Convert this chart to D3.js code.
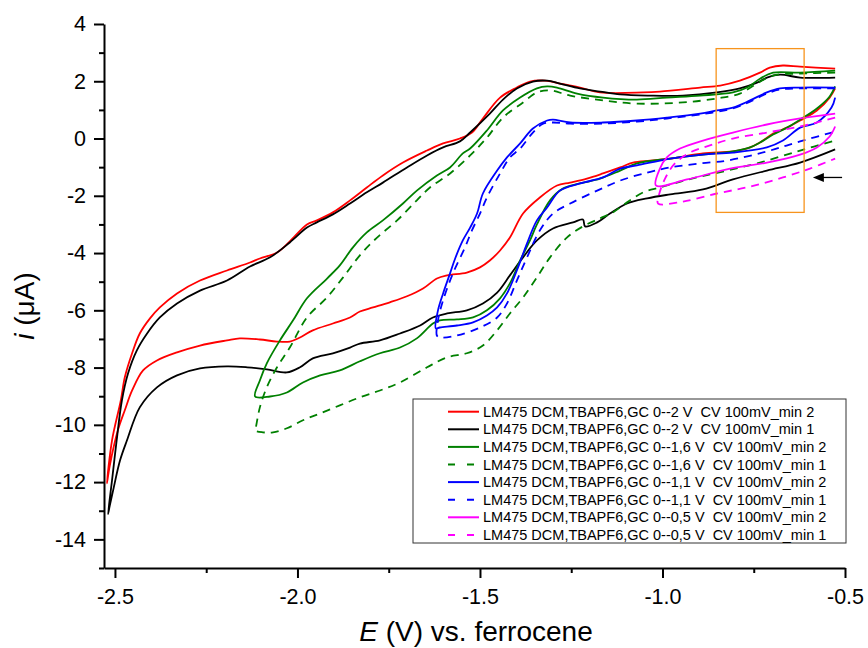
<!DOCTYPE html>
<html>
<head>
<meta charset="utf-8">
<script src="https://cdn.jsdelivr.net/npm/d3@7/dist/d3.min.js"></script>
<style>
  body { margin: 0; background: #fff; }
  svg text { font-family: "Liberation Sans", Arial, sans-serif; fill: #000; }
</style>
</head>
<body>
<svg id="chart" width="868" height="648"></svg>
<script>

// legend labels, one per scan
var labels = [
  "LM475 DCM,TBAPF6,GC 0--2 V  CV 100mV_min 2",
  "LM475 DCM,TBAPF6,GC 0--2 V  CV 100mV_min 1",
  "LM475 DCM,TBAPF6,GC 0--1,6 V  CV 100mV_min 2",
  "LM475 DCM,TBAPF6,GC 0--1,6 V  CV 100mV_min 1",
  "LM475 DCM,TBAPF6,GC 0--1,1 V  CV 100mV_min 2",
  "LM475 DCM,TBAPF6,GC 0--1,1 V  CV 100mV_min 1",
  "LM475 DCM,TBAPF6,GC 0--0,5 V  CV 100mV_min 2",
  "LM475 DCM,TBAPF6,GC 0--0,5 V  CV 100mV_min 1"
];

// each scan as [E (V), i (uA)]
var scan2V_min2 = [
  [-0.527,2.44],[-0.623,2.51],[-0.670,2.55],[-0.706,2.48],[-0.733,2.30],[-0.788,2.02],[-0.842,1.85],
  [-0.897,1.78],[-1.007,1.64],[-1.053,1.61],[-1.171,1.61],[-1.226,1.78],[-1.281,1.92],[-1.322,2.02],
  [-1.363,1.99],[-1.399,1.78],[-1.445,1.43],[-1.492,0.70],[-1.522,0.21],[-1.555,0.00],[-1.601,-0.17],
  [-1.645,-0.42],[-1.711,-0.84],[-1.766,-1.29],[-1.810,-1.71],[-1.856,-2.16],[-1.903,-2.58],[-1.947,-2.86],
  [-1.974,-3.00],[-2.021,-3.59],[-2.056,-3.98],[-2.103,-4.19],[-2.130,-4.33],[-2.193,-4.61],[-2.267,-4.96],
  [-2.330,-5.41],[-2.377,-5.90],[-2.404,-6.28],[-2.432,-6.81],[-2.453,-7.50],[-2.473,-8.34],[-2.484,-9.15],
  [-2.508,-10.54],[-2.522,-12.04],
  [-2.514,-11.41],[-2.492,-10.19],[-2.473,-9.49],[-2.453,-8.80],[-2.423,-8.10],[-2.385,-7.75],[-2.330,-7.47],
  [-2.267,-7.23],[-2.193,-7.05],[-2.158,-6.98],[-2.103,-7.02],[-2.056,-7.09],[-2.021,-7.09],[-1.993,-6.95],
  [-1.958,-6.70],[-1.903,-6.46],[-1.856,-6.25],[-1.829,-6.04],[-1.793,-5.90],[-1.747,-5.72],[-1.700,-5.51],
  [-1.656,-5.24],[-1.618,-4.89],[-1.590,-4.78],[-1.536,-4.68],[-1.500,-4.50],[-1.473,-4.26],[-1.445,-3.91],
  [-1.418,-3.46],[-1.382,-2.62],[-1.336,-2.06],[-1.289,-1.64],[-1.253,-1.54],[-1.207,-1.40],[-1.163,-1.22],
  [-1.116,-1.01],[-1.081,-0.84],[-1.034,-0.77],[-0.979,-0.70],[-0.889,-0.52],[-0.807,-0.45],[-0.760,-0.31],
  [-0.733,-0.14],[-0.697,0.17],[-0.659,0.38],[-0.623,0.63],[-0.577,0.98],[-0.542,1.43],[-0.527,1.75]
];
var scan2V_min1 = [
  [-0.527,2.13],[-0.623,2.13],[-0.678,2.23],[-0.714,2.13],[-0.741,1.95],[-0.788,1.75],[-0.851,1.61],
  [-0.944,1.50],[-1.034,1.50],[-1.116,1.54],[-1.171,1.64],[-1.226,1.75],[-1.281,1.92],[-1.316,2.02],
  [-1.355,1.99],[-1.399,1.75],[-1.437,1.36],[-1.473,0.87],[-1.527,0.21],[-1.555,-0.10],[-1.601,-0.31],
  [-1.645,-0.59],[-1.700,-1.01],[-1.766,-1.54],[-1.810,-1.88],[-1.856,-2.27],[-1.903,-2.65],[-1.947,-2.93],
  [-1.974,-3.11],[-2.021,-3.63],[-2.075,-4.15],[-2.130,-4.47],[-2.193,-4.96],[-2.267,-5.31],[-2.330,-5.76],
  [-2.377,-6.25],[-2.412,-6.81],[-2.440,-7.40],[-2.464,-8.20],[-2.481,-9.15],[-2.495,-10.51],[-2.508,-11.94],
  [-2.519,-13.12],
  [-2.514,-12.81],[-2.505,-12.29],[-2.486,-11.24],[-2.467,-10.54],[-2.432,-9.39],[-2.385,-8.69],[-2.330,-8.27],
  [-2.267,-8.03],[-2.193,-7.96],[-2.138,-7.99],[-2.084,-8.06],[-2.029,-8.17],[-1.993,-7.99],[-1.958,-7.68],
  [-1.903,-7.50],[-1.856,-7.30],[-1.829,-7.16],[-1.774,-7.05],[-1.719,-6.81],[-1.664,-6.53],[-1.629,-6.25],
  [-1.590,-6.11],[-1.536,-6.00],[-1.492,-5.76],[-1.453,-5.38],[-1.418,-4.78],[-1.382,-4.15],[-1.344,-3.56],
  [-1.300,-3.14],[-1.245,-2.93],[-1.218,-2.83],[-1.212,-3.07],[-1.179,-2.93],[-1.144,-2.62],[-1.097,-2.27],
  [-1.042,-2.09],[-0.979,-1.95],[-0.889,-1.78],[-0.807,-1.43],[-0.714,-1.12],[-0.623,-0.84],[-0.527,-0.38]
];
var scan16V_min2 = [
  [-0.527,2.37],[-0.623,2.30],[-0.697,2.30],[-0.733,2.09],[-0.768,1.78],[-0.807,1.61],[-0.897,1.50],
  [-0.988,1.43],[-1.070,1.36],[-1.163,1.43],[-1.234,1.57],[-1.289,1.78],[-1.316,1.82],[-1.344,1.75],
  [-1.390,1.43],[-1.437,0.98],[-1.481,0.28],[-1.527,-0.35],[-1.547,-0.52],[-1.582,-1.01],[-1.618,-1.29],
  [-1.673,-1.82],[-1.711,-2.27],[-1.766,-2.86],[-1.810,-3.28],[-1.848,-3.80],[-1.884,-4.43],[-1.919,-4.89],
  [-1.974,-5.58],[-2.012,-6.35],[-2.048,-7.05],[-2.084,-7.85],[-2.103,-8.45],[-2.116,-9.01],
  [-2.075,-9.01],[-2.029,-8.87],[-1.985,-8.52],[-1.938,-8.27],[-1.884,-8.10],[-1.829,-7.78],[-1.774,-7.50],
  [-1.719,-7.30],[-1.673,-6.98],[-1.629,-6.46],[-1.610,-6.35],[-1.563,-6.32],[-1.519,-6.25],[-1.481,-6.00],
  [-1.445,-5.58],[-1.418,-5.06],[-1.390,-4.26],[-1.363,-3.56],[-1.344,-3.00],[-1.308,-2.16],[-1.273,-1.75],
  [-1.226,-1.57],[-1.171,-1.40],[-1.116,-1.12],[-1.070,-0.87],[-0.979,-0.70],[-0.889,-0.56],[-0.807,-0.45],
  [-0.760,-0.31],[-0.733,-0.14],[-0.697,0.14],[-0.659,0.38],[-0.623,0.66],[-0.577,1.05],[-0.542,1.47],
  [-0.527,1.82]
];
var scan16V_min1 = [
  [-0.527,2.30],[-0.623,2.27],[-0.697,2.20],[-0.741,1.92],[-0.788,1.57],[-0.851,1.40],[-0.944,1.26],
  [-1.070,1.22],[-1.163,1.33],[-1.253,1.50],[-1.308,1.68],[-1.344,1.61],[-1.382,1.26],[-1.437,0.73],
  [-1.481,0.03],[-1.527,-0.59],[-1.582,-1.22],[-1.637,-1.71],[-1.673,-2.16],[-1.727,-2.86],[-1.782,-3.46],
  [-1.829,-4.08],[-1.875,-4.85],[-1.919,-5.55],[-1.974,-6.25],[-2.021,-7.30],[-2.056,-7.99],[-2.084,-8.69],
  [-2.103,-9.39],[-2.114,-10.09],[-2.116,-10.19],
  [-2.095,-10.26],[-2.067,-10.26],[-2.029,-10.12],[-1.985,-9.84],[-1.938,-9.60],[-1.884,-9.32],[-1.829,-9.04],
  [-1.774,-8.80],[-1.719,-8.52],[-1.645,-7.99],[-1.590,-7.64],[-1.536,-7.50],[-1.492,-7.23],[-1.453,-6.70],
  [-1.418,-6.11],[-1.382,-5.55],[-1.344,-4.85],[-1.308,-4.15],[-1.262,-3.46],[-1.218,-3.07],[-1.171,-2.79],
  [-1.136,-2.58],[-1.097,-2.23],[-1.053,-1.88],[-1.007,-1.71],[-0.960,-1.54],[-0.897,-1.33],[-0.823,-1.12],
  [-0.733,-0.84],[-0.623,-0.42],[-0.527,-0.07]
];
var scan11V_min2 = [
  [-0.527,1.78],[-0.623,1.78],[-0.678,1.75],[-0.714,1.61],[-0.760,1.33],[-0.807,1.08],[-0.851,0.98],
  [-0.897,0.87],[-0.988,0.73],[-1.070,0.63],[-1.163,0.56],[-1.253,0.56],[-1.300,0.66],[-1.316,0.63],
  [-1.355,0.35],[-1.390,-0.17],[-1.426,-0.66],[-1.453,-1.12],[-1.492,-1.92],[-1.508,-2.62],[-1.527,-3.11],
  [-1.547,-3.56],[-1.568,-4.19],[-1.582,-4.71],[-1.601,-5.41],[-1.615,-6.00],[-1.621,-6.63],
  [-1.610,-6.60],[-1.563,-6.53],[-1.519,-6.42],[-1.481,-6.18],[-1.453,-5.90],[-1.426,-5.41],[-1.399,-4.61],
  [-1.371,-3.66],[-1.344,-2.86],[-1.316,-2.41],[-1.281,-1.82],[-1.226,-1.57],[-1.163,-1.36],[-1.116,-1.05],
  [-1.070,-0.94],[-0.979,-0.70],[-0.889,-0.56],[-0.807,-0.49],[-0.714,-0.31],[-0.670,-0.07],[-0.623,0.38],
  [-0.577,0.56],[-0.537,1.08],[-0.527,1.43]
];
var scan11V_min1 = [
  [-0.527,1.75],[-0.623,1.75],[-0.678,1.71],[-0.714,1.57],[-0.760,1.29],[-0.807,1.05],[-0.897,0.84],
  [-0.988,0.70],[-1.070,0.59],[-1.163,0.52],[-1.253,0.52],[-1.300,0.56],[-1.327,0.52],[-1.355,0.21],
  [-1.390,-0.35],[-1.418,-0.66],[-1.445,-1.22],[-1.481,-2.06],[-1.500,-2.62],[-1.522,-3.21],[-1.541,-3.80],
  [-1.574,-4.71],[-1.601,-5.65],[-1.615,-6.35],[-1.618,-6.88],
  [-1.610,-6.95],[-1.563,-6.88],[-1.500,-6.60],[-1.453,-6.25],[-1.426,-5.76],[-1.399,-4.96],[-1.371,-4.15],
  [-1.336,-3.21],[-1.300,-2.62],[-1.253,-2.27],[-1.179,-1.82],[-1.116,-1.47],[-1.042,-1.19],[-0.979,-1.01],
  [-0.897,-0.87],[-0.823,-0.77],[-0.714,-0.45],[-0.623,-0.10],[-0.527,0.24]
];
var scan05V_min2 = [
  [-0.527,0.87],[-0.623,0.70],[-0.714,0.49],[-0.807,0.21],[-0.889,-0.07],[-0.952,-0.35],[-0.988,-0.66],
  [-1.007,-1.05],[-1.018,-1.64],
  [-0.933,-1.43],[-0.815,-1.05],[-0.714,-0.84],[-0.623,-0.56],[-0.577,-0.31],[-0.542,0.07],[-0.527,0.42]
];
var scan05V_min1 = [
  [-0.527,0.73],[-0.623,0.42],[-0.714,0.21],[-0.807,0.00],[-0.870,-0.24],[-0.925,-0.49],[-0.966,-0.87],
  [-0.993,-1.40],[-1.010,-1.99],[-1.012,-2.27],
  [-0.944,-2.20],[-0.851,-1.92],[-0.760,-1.68],[-0.670,-1.36],[-0.596,-1.05],[-0.527,-0.70]
];

var xTicks = [-2.5, -2.0, -1.5, -1.0, -0.5];
var yTicks = [-14, -12, -10, -8, -6, -4, -2, 0, 2, 4];

// highlighted window and the arrow marking the scan start
var boxE = [-0.853, -0.612], boxI = [3.14, -2.58];
var arrowE = [-0.508, -0.588], arrowI = -1.36;

var scans = [scan2V_min2, scan2V_min1, scan16V_min2, scan16V_min1,
             scan11V_min2, scan11V_min1, scan05V_min2, scan05V_min1];
var colors = ["#ff0000", "#000000", "#008000", "#008000", "#0000ff", "#0000ff", "#ff00ff", "#ff00ff"];
var dashed = [false, false, false, true, false, true, false, true];

var svg = d3.select("#chart");

var x = d3.scaleLinear().domain([-2.53, -0.5]).range([104, 845]);
var y = d3.scaleLinear().domain([-15, 4]).range([568, 24]);

// axes: major ticks with labels, minor ticks without
svg.append("g")
    .attr("transform", "translate(0,568)")
    .call(d3.axisBottom(x).tickValues(d3.range(-2.25, -0.5, 0.5)).tickSize(5).tickFormat(""))
    .call(function(g) { g.select(".domain").remove(); });
svg.append("g")
    .attr("transform", "translate(104,0)")
    .call(d3.axisLeft(y).tickValues(d3.range(-15, 4, 2)).tickSize(5).tickFormat(""))
    .call(function(g) { g.select(".domain").remove(); });

var xAxis = svg.append("g")
    .attr("transform", "translate(0,568)")
    .call(d3.axisBottom(x).tickValues(xTicks).tickSize(10).tickSizeOuter(0).tickPadding(11)
      .tickFormat(function(d) { return d.toFixed(1); }));
var yAxis = svg.append("g")
    .attr("transform", "translate(104,0)")
    .call(d3.axisLeft(y).tickValues(yTicks).tickSize(10).tickSizeOuter(0).tickPadding(8)
      .tickFormat(function(d) { return String(d); }));

svg.selectAll(".domain, .tick line").attr("stroke", "#000").attr("stroke-width", 2);
svg.selectAll(".tick text").attr("font-size", 21.5).attr("font-family", "Liberation Sans, Arial, sans-serif");

// curves
var line = d3.line()
    .x(function(d) { return x(d[0]); })
    .y(function(d) { return y(d[1]); })
    .curve(d3.curveCatmullRom.alpha(0.5));

svg.append("g").selectAll("path")
    .data(scans)
  .enter().append("path")
    .attr("d", line)
    .attr("fill", "none")
    .attr("stroke", function(d, i) { return colors[i]; })
    .attr("stroke-width", 1.8)
    .attr("stroke-linejoin", "round")
    .attr("stroke-dasharray", function(d, i) { return dashed[i] ? "8,6" : null; });

// orange window
svg.append("rect")
    .attr("x", x(boxE[0]))
    .attr("y", y(boxI[0]))
    .attr("width", x(boxE[1]) - x(boxE[0]))
    .attr("height", y(boxI[1]) - y(boxI[0]))
    .attr("fill", "none")
    .attr("stroke", "#f7941d")
    .attr("stroke-width", 1.3);

// arrow
var ay = y(arrowI);
svg.append("line")
    .attr("x1", x(arrowE[0])).attr("x2", x(arrowE[1]) + 8)
    .attr("y1", ay).attr("y2", ay)
    .attr("stroke", "#000").attr("stroke-width", 1.3);
svg.append("path")
    .attr("d", "M" + x(arrowE[1]) + "," + ay + "l11,-4.5l0,9z")
    .attr("fill", "#000");

// axis titles
svg.append("text")
    .attr("x", 476).attr("y", 641)
    .attr("text-anchor", "middle")
    .attr("font-size", 28)
    .html('<tspan font-style="italic">E</tspan> (V) vs. ferrocene');
svg.append("text")
    .attr("transform", "translate(34,306) rotate(-90)")
    .attr("text-anchor", "middle")
    .attr("font-size", 28)
    .html('<tspan font-style="italic">i</tspan> (\u03bcA)');

// legend
var legend = svg.append("g");
legend.append("rect")
    .attr("x", 413).attr("y", 399).attr("width", 433).attr("height", 144)
    .attr("fill", "#fff").attr("stroke", "#333").attr("stroke-width", 1);

var item = legend.selectAll("g.item")
    .data(labels)
  .enter().append("g")
    .attr("class", "item")
    .attr("transform", function(d, i) { return "translate(0," + (411.7 + i * 17.6) + ")"; });

item.append("line")
    .attr("x1", 448).attr("x2", 479)
    .attr("stroke", function(d, i) { return colors[i]; })
    .attr("stroke-width", 2)
    .attr("stroke-dasharray", function(d, i) { return dashed[i] ? "7,12" : null; });

item.append("text")
    .attr("x", 483).attr("y", 5)
    .attr("font-size", 14.5)
    .style("white-space", "pre")
    .text(function(d) { return d; });

</script>
</body>
</html>
